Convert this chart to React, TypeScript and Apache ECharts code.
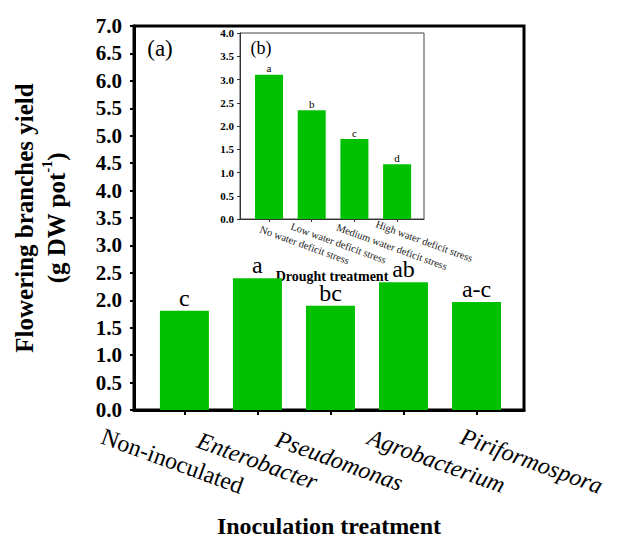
import React, { useEffect, useRef } from "react";
import * as echarts from "echarts";

const inoculation = ["Non-inoculated", "Enterobacter", "Pseudomonas", "Agrobacterium", "Piriformospora"];
const yieldValues = [1.81, 2.4, 1.9, 2.33, 1.97];
const yieldLetters = ["c", "a", "bc", "ab", "a-c"];

const drought = ["No water deficit stress", "Low water deficit stress", "Medium water deficit stress", "High water deficit stress"];
const droughtValues = [3.1, 2.34, 1.72, 1.18];
const droughtLetters = ["a", "b", "c", "d"];

const mainTicks = [0, 1, 2, 3, 4];
const insetTicks = [0, 1, 2, 3];

// layout: horizontal offsets of main rotated labels (px), inset label anchor positions (axis units)
// and small perpendicular drops of inset labels (px)
const mainLabelShift = [-12, 0, 9, 33, 55];
const insetLabelPos = [0.84, 1.62, 2.9, 3.61];
const insetLabelDrop = [1, -1, 3, -3];
const MAIN_ROT = 20;
const INSET_ROT = 20;

const MAIN_MIN = -0.69;
const MAIN_MAX = 4.65;
const INSET_MIN = -0.68;
const INSET_MAX = 3.63;

const FONT = "Liberation Serif";
const GREEN = "#00C000";

function shiftPad(dx: number, deg: number) {
  const r = (deg * Math.PI) / 180;
  const a = dx * Math.cos(r);
  const b = dx * Math.sin(r);
  return [b < 0 ? -2 * b : 0, a < 0 ? -2 * a : 0, b > 0 ? 2 * b : 0, a > 0 ? 2 * a : 0];
}

function nearestIndex(list: number[], v: number) {
  for (let i = 0; i < list.length; i++) if (Math.abs(list[i] - v) < 0.004) return i;
  return -1;
}

export default function App() {
  const ref = useRef<HTMLDivElement>(null);
  useEffect(() => {
    if (!ref.current) return;
    const chart = echarts.init(ref.current, undefined, { renderer: "svg" });

    const mainRich: any = {};
    inoculation.forEach((_, i) => {
      mainRich["c" + i] = {
        fontFamily: FONT,
        fontSize: 24,
        color: "#000",
        fontStyle: i === 0 ? "normal" : "italic",
        padding: shiftPad(mainLabelShift[i], MAIN_ROT),
      };
    });
    const insetRich: any = {};
    drought.forEach((_, i) => {
      const d = insetLabelDrop[i];
      insetRich["d" + i] = {
        fontFamily: FONT,
        fontSize: 10.5,
        color: "#222",
        padding: [d > 0 ? 2 * d : 0, 0, d < 0 ? -2 * d : 0, 0],
      };
    });

    // empty end labels keep the min/max overlap check away from the real labels
    const mainLabelValues = [MAIN_MIN, ...mainTicks, MAIN_MAX];
    const insetLabelValues = [INSET_MIN, ...insetLabelPos, INSET_MAX];

    const option: any = {
      animation: false,
      grid: [
        { left: 134, top: 26, right: 106, bottom: 125, show: true, borderColor: "#000", borderWidth: 3 },
        { left: 240, top: 33, right: 206, bottom: 324, show: true, borderColor: "#444", borderWidth: 1 },
      ],
      xAxis: [
        {
          type: "value",
          gridIndex: 0,
          min: MAIN_MIN,
          max: MAIN_MAX,
          splitLine: { show: false },
          axisLine: { show: true, onZero: false, lineStyle: { color: "#000", width: 3 } },
          axisTick: { show: true, customValues: mainTicks, length: 5, lineStyle: { color: "#000", width: 2 } },
          axisLabel: {
            customValues: mainLabelValues,
            showMinLabel: true,
            showMaxLabel: true,
            hideOverlap: false,
            rotate: -MAIN_ROT,
            align: "center",
            verticalAlign: "middle",
            margin: 51,
            formatter: (v: number) => {
              const i = nearestIndex(mainTicks, v);
              return i < 0 ? "" : `{c${i}|${inoculation[i]}}`;
            },
            rich: mainRich,
          },
          name: "Inoculation treatment",
          nameLocation: "middle",
          nameGap: 104,
          nameMoveOverlap: false,
          nameTextStyle: { fontFamily: FONT, fontWeight: "bold", fontSize: 24, color: "#000" },
        },
        {
          type: "value",
          gridIndex: 1,
          min: INSET_MIN,
          max: INSET_MAX,
          splitLine: { show: false },
          axisLine: { show: true, onZero: false, lineStyle: { color: "#333", width: 1 } },
          axisTick: { show: true, customValues: insetTicks, length: 3, lineStyle: { color: "#333", width: 1 } },
          axisLabel: {
            customValues: insetLabelValues,
            showMinLabel: true,
            showMaxLabel: true,
            hideOverlap: false,
            rotate: -INSET_ROT,
            align: "center",
            verticalAlign: "middle",
            margin: 25,
            formatter: (v: number) => {
              const i = nearestIndex(insetLabelPos, v);
              return i < 0 ? "" : `{d${i}|${drought[i]}}`;
            },
            rich: insetRich,
          },
          name: "Drought treatment",
          nameLocation: "middle",
          nameGap: 50,
          nameMoveOverlap: false,
          nameTextStyle: { fontFamily: FONT, fontWeight: "bold", fontSize: 14, color: "#000" },
        },
      ],
      yAxis: [
        {
          type: "value",
          gridIndex: 0,
          min: 0,
          max: 7,
          interval: 0.5,
          splitLine: { show: false },
          axisLine: { show: true, onZero: false, lineStyle: { color: "#000", width: 3 } },
          axisTick: { show: true, length: 4, lineStyle: { color: "#000", width: 2 } },
          axisLabel: {
            formatter: (v: number) => v.toFixed(1),
            fontFamily: FONT,
            fontWeight: "bold",
            fontSize: 21,
            color: "#000",
            margin: 12,
          },
          name: "{t|Flowering branches yield}\n{t|(g DW pot}{s|-1}{t|)}",
          nameLocation: "middle",
          nameRotate: 90,
          nameGap: 62,
          nameMoveOverlap: false,
          nameTextStyle: {
            fontFamily: FONT,
            fontWeight: "bold",
            fontSize: 25,
            color: "#000",
            rich: {
              t: { fontFamily: FONT, fontWeight: "bold", fontSize: 25, color: "#000", lineHeight: 32 },
              s: { fontFamily: FONT, fontWeight: "bold", fontSize: 14, color: "#000", lineHeight: 14, verticalAlign: "top" },
            },
          },
        },
        {
          type: "value",
          gridIndex: 1,
          min: 0,
          max: 4,
          interval: 0.5,
          splitLine: { show: false },
          axisLine: { show: true, onZero: false, lineStyle: { color: "#333", width: 1 } },
          axisTick: { show: true, length: 3, lineStyle: { color: "#333", width: 1 } },
          axisLabel: {
            formatter: (v: number) => v.toFixed(1),
            fontFamily: FONT,
            fontWeight: "bold",
            fontSize: 11,
            color: "#000",
            margin: 6,
          },
        },
      ],
      series: [
        {
          type: "bar",
          xAxisIndex: 0,
          yAxisIndex: 0,
          data: yieldValues.map((v, i) => [i, v]),
          barWidth: 49,
          itemStyle: { color: GREEN },
          label: {
            show: true,
            position: "top",
            distance: 1,
            formatter: (p: any) => yieldLetters[p.dataIndex],
            fontFamily: FONT,
            fontSize: 24,
            color: "#000",
          },
        },
        {
          type: "bar",
          xAxisIndex: 1,
          yAxisIndex: 1,
          data: droughtValues.map((v, i) => [i, v]),
          barWidth: 28,
          itemStyle: { color: GREEN },
          label: {
            show: true,
            position: "top",
            distance: 1,
            formatter: (p: any) => droughtLetters[p.dataIndex],
            fontFamily: FONT,
            fontSize: 11,
            color: "#000",
          },
        },
      ],
      graphic: [
        {
          type: "text",
          x: 160,
          y: 48,
          style: { text: "(a)", fontFamily: FONT, fontSize: 23, fill: "#000", align: "center", verticalAlign: "middle" },
        },
        {
          type: "text",
          x: 261,
          y: 48,
          style: { text: "(b)", fontFamily: FONT, fontSize: 18, fill: "#000", align: "center", verticalAlign: "middle" },
        },
      ],
    };
    chart.setOption(option);
    return () => chart.dispose();
  }, []);
  return <div ref={ref} style={{ position: "absolute", left: 0, top: 0, width: 630, height: 543 }} />;
}
